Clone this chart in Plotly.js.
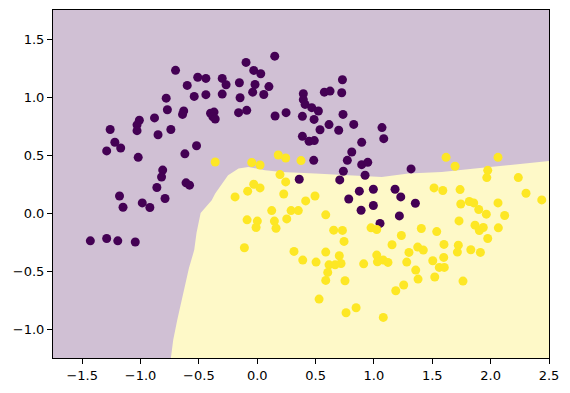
<!DOCTYPE html>
<html>
<head>
<meta charset="utf-8">
<script src="https://cdn.plot.ly/plotly-3.0.1.min.js"></script>
<style>html,body{margin:0;padding:0;background:#fff}#chart{width:570px;height:393px}</style>
</head>
<body>
<div id="chart"></div>
<script>
// Class 0 (purple) points
const purpleX = [-0.70,-0.51,-0.44,-0.30,-0.60,-0.54,-0.44,-0.30,-0.78,-0.77,-0.63,-0.64,-0.40,-0.37,-0.38,-0.36,-0.88,-1.01,-1.03,-1.03,-1.26,-0.74,-0.85,-1.22,-1.17,-1.29,-1.02,-0.52,-0.62,-0.81,-0.82,-0.86,-0.61,-0.58,
  -1.18,-0.79,-0.985,-0.92,-1.15,-1.43,-1.29,-1.195,-1.045,
  0.15,-0.096,-0.03,0.03,-0.267,-0.153,-0.019,0.10,-0.147,-0.039,0.056,-0.16,-0.09,0.153,0.247,0.73,0.575,0.624,0.724,0.395,0.395,0.41,0.467,0.524,0.387,0.487,0.735,0.615,0.538,0.698,0.827,1.069,1.084,0.387,0.444,0.489,0.895,0.81,0.772,0.484,0.895,0.947,0.738,0.924,0.707,0.36,
  0.875,0.995,0.784,0.89,0.995,1.052,
  1.318,1.181,1.23,1.355,1.218];
const purpleY = [1.23,1.17,1.16,1.16,1.10,1.005,1.02,1.025,0.99,0.89,0.88,0.85,0.86,0.87,0.83,0.81,0.82,0.80,0.76,0.71,0.72,0.72,0.675,0.61,0.56,0.535,0.48,0.58,0.51,0.37,0.31,0.22,0.26,0.24,
  0.147,0.125,0.087,0.047,0.05,-0.24,-0.22,-0.24,-0.25,
  1.352,1.298,1.229,1.20,1.106,1.123,1.108,1.09,0.994,1.042,1.022,0.865,0.885,0.836,0.865,1.149,1.042,1.051,1.037,1.028,0.977,0.936,0.908,0.879,0.833,0.807,0.85,0.762,0.718,0.713,0.764,0.736,0.641,0.661,0.618,0.624,0.609,0.526,0.454,0.454,0.417,0.437,0.36,0.325,0.285,0.291,
  0.188,0.205,0.121,0.024,0.065,-0.09,
  0.38,0.205,0.139,0.084,-0.025];

// Class 1 (yellow) points
const yellowX = [-0.36,0.18,0.244,0.375,-0.047,0.024,0.195,0.244,-0.03,0.024,-0.082,-0.19,0.227,0.495,0.415,0.124,0.29,0.352,0.253,-0.087,0.001,-0.01,0.147,0.161,0.587,-0.11,0.655,0.73,0.744,0.315,0.39,0.504,0.587,0.703,0.718,0.615,0.667,0.604,0.587,0.752,0.53,0.761,0.847,0.912,1.024,1.03,1.08,0.975,1.024,1.08,
  1.618,2.063,1.695,1.975,1.967,2.237,1.515,1.59,1.738,2.303,2.438,1.744,1.817,1.855,1.898,1.963,2.063,2.12,1.729,1.866,1.903,1.937,2.066,1.975,1.406,1.538,1.235,1.155,1.30,1.375,1.423,1.60,1.723,1.715,1.83,1.912,1.12,1.281,1.504,1.598,1.56,1.603,1.358,1.378,1.521,1.763,1.255,1.187];
const yellowY = [0.44,0.50,0.474,0.452,0.435,0.414,0.331,0.268,0.248,0.216,0.188,0.139,0.164,0.147,0.104,0.021,0.021,0.021,-0.051,-0.059,-0.07,-0.125,-0.07,-0.131,-0.016,-0.30,-0.148,-0.15,-0.245,-0.331,-0.406,-0.423,-0.337,-0.369,-0.435,-0.447,-0.447,-0.512,-0.581,-0.584,-0.742,-0.86,-0.817,-0.438,-0.363,-0.421,-0.406,-0.128,-0.142,-0.90,
  0.48,0.48,0.403,0.368,0.305,0.305,0.216,0.194,0.202,0.17,0.113,0.078,0.099,0.087,0.03,-0.01,0.087,-0.022,-0.068,-0.105,-0.151,-0.125,-0.128,-0.22,-0.134,-0.16,-0.194,-0.274,-0.34,-0.294,-0.32,-0.271,-0.277,-0.337,-0.317,-0.34,-0.426,-0.423,-0.412,-0.383,-0.469,-0.469,-0.492,-0.57,-0.552,-0.587,-0.621,-0.67];

// Decision boundary (upper edge of the yellow region)
const boundaryX = [-0.74,-0.72,-0.685,-0.655,-0.62,-0.585,-0.54,-0.52,-0.485,-0.39,-0.36,-0.30,-0.25,-0.16,-0.076,0.067,0.21,0.495,0.78,1.067,1.295,1.58,1.866,2.15,2.44,2.5];
const boundaryY = [-1.25,-1.095,-0.92,-0.78,-0.64,-0.475,-0.32,-0.17,0.0,0.11,0.168,0.254,0.325,0.383,0.397,0.368,0.354,0.34,0.325,0.31,0.34,0.354,0.383,0.41,0.44,0.448];

const xRange = [-1.75, 2.5];
const yRange = [-1.25, 1.75];
const xTicks = [-1.5,-1.0,-0.5,0.0,0.5,1.0,1.5,2.0,2.5];
const yTicks = [-1.0,-0.5,0.0,0.5,1.0,1.5];

const regionX = boundaryX.concat([xRange[1], boundaryX[0]]);
const regionY = boundaryY.concat([yRange[0], yRange[0]]);

const traces = [
  {x: regionX, y: regionY, type: 'scatter', mode: 'lines', fill: 'toself',
   fillcolor: 'rgb(254,249,200)', line: {width: 0}, hoverinfo: 'skip', showlegend: false},
  {x: purpleX, y: purpleY, type: 'scatter', mode: 'markers',
   marker: {color: '#440154', size: 9, line: {width: 0}}, showlegend: false},
  {x: yellowX, y: yellowY, type: 'scatter', mode: 'markers',
   marker: {color: '#fde725', size: 9, line: {width: 0}}, showlegend: false}
];

const axisCommon = {
  showgrid: false, zeroline: false, showline: true, mirror: true,
  linecolor: '#000', linewidth: 1, ticks: 'outside', ticklen: 5, tickwidth: 1,
  tickcolor: '#000', tickfont: {family: 'DejaVu Sans', size: 13, color: '#000'},
  tickformat: '.1f'
};

const layout = {
  width: 570, height: 393,
  margin: {l: 53, r: 21, t: 10, b: 35},
  paper_bgcolor: '#fff',
  plot_bgcolor: 'rgb(208,192,212)',
  showlegend: false,
  xaxis: Object.assign({}, axisCommon, {range: xRange, tickvals: xTicks}),
  yaxis: Object.assign({}, axisCommon, {range: yRange, tickvals: yTicks})
};

Plotly.newPlot('chart', traces, layout, {displayModeBar: false, staticPlot: true});
</script>
</body>
</html>
